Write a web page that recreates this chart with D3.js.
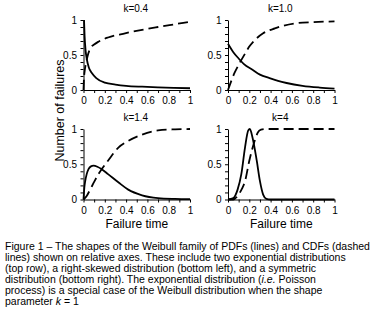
<!DOCTYPE html>
<html>
<head>
<meta charset="utf-8">
<script src="https://cdn.jsdelivr.net/npm/d3@7"></script>
<style>
  body { margin: 0; background: #fff; }
  svg { display: block; font-family: "Liberation Sans", Arial, sans-serif; }
  .axis path, .axis line { stroke: #000; stroke-width: 1; }
  .axis text { font-size: 10px; fill: #000; }
  .pdf { fill: none; stroke: #000; stroke-width: 1.8; }
  .cdf { fill: none; stroke: #000; stroke-width: 1.8; stroke-dasharray: 10,5; }
</style>
</head>
<body>
<div class="container"></div>
<script>
// panel titles (shape parameter)
var titles = ["k=0.4", "k=1.0", "k=1.4", "k=4"];

// values: x = failure time, y = relative value
var pdfX04 = [0.005, 0.01, 0.02, 0.03, 0.05, 0.08, 0.12, 0.2, 0.3, 0.4, 0.55, 0.7, 0.85, 1.0];
var pdfY04 = [1.0, 0.78, 0.56, 0.45, 0.32, 0.24, 0.17, 0.105, 0.078, 0.06, 0.047, 0.038, 0.031, 0.025];
var cdfX04 = [0, 0.005, 0.01, 0.02, 0.03, 0.045, 0.065, 0.1, 0.14, 0.23, 0.39, 0.55, 0.7, 0.86, 1.0];
var cdfY04 = [0, 0.18, 0.26, 0.36, 0.43, 0.52, 0.6, 0.65, 0.69, 0.75, 0.81, 0.86, 0.9, 0.94, 0.975];

var pdfX10 = [0, 0.05, 0.1, 0.15, 0.23, 0.3, 0.39, 0.47, 0.55, 0.7, 0.86, 1.0];
var pdfY10 = [0.66, 0.54, 0.45, 0.37, 0.29, 0.22, 0.17, 0.13, 0.1, 0.06, 0.035, 0.02];
var cdfX10 = [0, 0.06, 0.1, 0.16, 0.2, 0.27, 0.33, 0.44, 0.5, 0.62, 0.8, 1.0];
var cdfY10 = [0, 0.24, 0.36, 0.52, 0.62, 0.74, 0.81, 0.88, 0.91, 0.95, 0.97, 0.98];

var pdfX14 = [0, 0.008, 0.016, 0.03, 0.047, 0.07, 0.094, 0.13, 0.17, 0.23, 0.33, 0.42, 0.55, 0.7, 0.86, 1.0];
var pdfY14 = [0, 0.17, 0.26, 0.36, 0.43, 0.47, 0.48, 0.465, 0.43, 0.36, 0.24, 0.14, 0.06, 0.02, 0.008, 0.004];
var cdfX14 = [0, 0.03, 0.0625, 0.1, 0.14, 0.18, 0.23, 0.33, 0.42, 0.55, 0.7, 0.86, 1.0];
var cdfY14 = [0, 0.05, 0.14, 0.25, 0.36, 0.45, 0.55, 0.74, 0.83, 0.92, 0.98, 0.995, 1.0];

var pdfX4 = [0, 0.05, 0.09, 0.125, 0.16, 0.19, 0.205, 0.23, 0.27, 0.3, 0.33, 0.36, 0.4, 0.6, 0.8, 1.0];
var pdfY4 = [0, 0.02, 0.14, 0.36, 0.74, 0.98, 1.0, 0.88, 0.55, 0.26, 0.07, 0.01, 0, 0, 0, 0];
var cdfX4 = [0, 0.05, 0.09, 0.13, 0.16, 0.2, 0.25, 0.28, 0.31, 0.35, 0.5, 0.7, 1.0];
var cdfY4 = [0, 0, 0.05, 0.15, 0.26, 0.55, 0.83, 0.95, 0.99, 1.0, 1.0, 1.0, 1.0];

var xTickValues = [0, 0.1, 0.2, 0.3, 0.4, 0.5, 0.6, 0.7, 0.8, 0.9, 1];
var xTickLabels = ["0", "", "0.2", "", "0.4", "", "0.6", "", "0.8", "", "1"];
var yTickValues = [0, 0.1, 0.2, 0.3, 0.4, 0.5, 0.6, 0.7, 0.8, 0.9, 1];
var yTickLabels = ["0", "", "", "", "", "0.5", "", "", "", "", "1"];

var captionLines = [
	["Figure 1 \u2013 The shapes of the Weibull family of PDFs (lines) and CDFs (dashed"],
	["lines) shown on relative axes. These include two exponential distributions"],
	["(top row), a right-skewed distribution (bottom left), and a symmetric"],
	["distribution (bottom right). The exponential distribution (", "i.e.", " Poisson"],
	["process) is a special case of the Weibull distribution when the shape"],
	["parameter ", "k", " = 1"]
];

const WIDTH = 389;
const HEIGHT = 325;

var translate = function(x, y){
	return "translate(" + x + "," + y + ")";
};

var zip = function(xs, ys){
	return xs.map(function(x, i){ return [x, ys[i]]; });
};

var panels = [
	{ title: titles[0], pdf: zip(pdfX04, pdfY04), cdf: zip(cdfX04, cdfY04), left: 83.5, right: 190, top: 20, bottom: 90 },
	{ title: titles[1], pdf: zip(pdfX10, pdfY10), cdf: zip(cdfX10, cdfY10), left: 228, right: 334.5, top: 20, bottom: 90 },
	{ title: titles[2], pdf: zip(pdfX14, pdfY14), cdf: zip(cdfX14, cdfY14), left: 83.5, right: 190, top: 129, bottom: 199.5 },
	{ title: titles[3], pdf: zip(pdfX4, pdfY4), cdf: zip(cdfX4, cdfY4), left: 228, right: 334.5, top: 129, bottom: 199.5 }
];

var svg = d3.select('.container').append('svg')
	.attr('width', WIDTH)
	.attr('height', HEIGHT);

var drawPanel = function(p, i){
	var xScale = d3.scaleLinear().domain([0, 1]).range([p.left, p.right]);
	var yScale = d3.scaleLinear().domain([0, 1]).range([p.bottom, p.top]);

	var xAxis = d3.axisBottom(xScale)
		.tickValues(xTickValues)
		.tickFormat(function(d, j){ return xTickLabels[j]; })
		.tickSize(3)
		.tickPadding(4)
		.tickSizeOuter(0);
	var yAxis = d3.axisLeft(yScale)
		.tickValues(yTickValues)
		.tickFormat(function(d, j){ return yTickLabels[j]; })
		.tickSize(3)
		.tickPadding(3.5)
		.tickSizeOuter(0);

	svg.append('g')
		.classed('axis', true)
		.attr('transform', translate(0, p.bottom))
		.call(xAxis);
	svg.append('g')
		.classed('axis', true)
		.attr('transform', translate(p.left, 0))
		.call(yAxis);

	var line = d3.line()
		.curve(d3.curveMonotoneX)
		.x(function(d){ return xScale(d[0]); })
		.y(function(d){ return yScale(d[1]); });

	svg.append('path').classed('cdf', true).attr('d', line(p.cdf));
	svg.append('path').classed('pdf', true).attr('d', line(p.pdf));

	svg.append('text')
		.attr('x', (p.left + p.right) / 2 - 1)
		.attr('y', p.top - 8)
		.attr('text-anchor', 'middle')
		.style('font-size', '10px')
		.text(p.title);

	if (i >= 2) {
		svg.append('text')
			.attr('x', (p.left + p.right) / 2)
			.attr('y', 227.5)
			.attr('text-anchor', 'middle')
			.style('font-size', '12px')
			.text("Failure time");
	}
};

panels.forEach(drawPanel);

svg.append('text')
	.attr('transform', translate(63.5, 110.5) + " rotate(-90)")
	.attr('text-anchor', 'middle')
	.style('font-size', '12.5px')
	.text("Number of failures");

var caption = svg.append('g').attr('transform', translate(5, 249.5));
captionLines.forEach(function(parts, i){
	var t = caption.append('text')
		.attr('y', i * 11.1)
		.style('font-size', '10.5px');
	parts.forEach(function(s, j){
		t.append('tspan')
			.style('font-style', j === 1 ? 'italic' : 'normal')
			.text(s);
	});
});
</script>
</body>
</html>
